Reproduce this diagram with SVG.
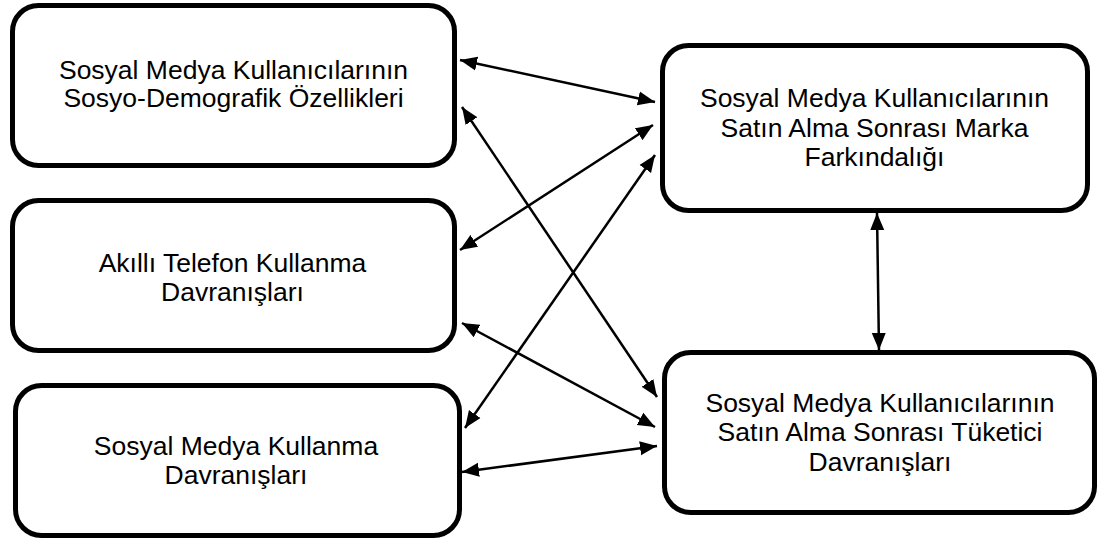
<svg xmlns="http://www.w3.org/2000/svg" width="1106" height="542" viewBox="0 0 1106 542">
  <style>
    .box { fill: #ffffff; stroke: #000000; stroke-width: 5; }
    .lbl { font-family: "Liberation Sans", Arial, sans-serif; font-size: 26.5px; fill: #000000; text-anchor: middle; }
    .con { stroke: #000000; stroke-width: 2.5; fill: none; marker-start: url(#ah); marker-end: url(#ah); }
  </style>
  <defs>
    <marker id="ah" markerUnits="userSpaceOnUse" markerWidth="18" markerHeight="15" refX="17" refY="7" orient="auto-start-reverse" viewBox="0 0 18 14">
      <path d="M0,0 L17,7 L0,14 z" fill="#000000"/>
    </marker>
  </defs>
  <rect width="1106" height="542" fill="#ffffff"/>

  <g id="node-sosyo-demografik">
    <rect class="box" x="12.5" y="5.5" width="442" height="160" rx="26" ry="26"/>
    <text class="lbl" x="233.5" y="79">Sosyal Medya Kullanıcılarının</text>
    <text class="lbl" x="233.5" y="107">Sosyo-Demografik Özellikleri</text>
  </g>

  <g id="node-akilli-telefon">
    <rect class="box" x="12.5" y="200.5" width="442" height="150" rx="26" ry="26"/>
    <text class="lbl" x="232.5" y="271.5">Akıllı Telefon Kullanma</text>
    <text class="lbl" x="232.5" y="300.5">Davranışları</text>
  </g>

  <g id="node-sosyal-medya-kullanma">
    <rect class="box" x="15.5" y="385.5" width="444" height="150" rx="26" ry="26"/>
    <text class="lbl" x="236" y="455">Sosyal Medya Kullanma</text>
    <text class="lbl" x="236" y="484">Davranışları</text>
  </g>

  <g id="node-marka-farkindaligi">
    <rect class="box" x="662.5" y="45.5" width="425" height="165" rx="26" ry="26"/>
    <text class="lbl" x="874.5" y="107">Sosyal Medya Kullanıcılarının</text>
    <text class="lbl" x="874.5" y="136.5">Satın Alma Sonrası Marka</text>
    <text class="lbl" x="874.5" y="166">Farkındalığı</text>
  </g>

  <g id="node-tuketici-davranislari">
    <rect class="box" x="664.5" y="352.5" width="430" height="160" rx="26" ry="26"/>
    <text class="lbl" x="880" y="411.5">Sosyal Medya Kullanıcılarının</text>
    <text class="lbl" x="880" y="441">Satın Alma Sonrası Tüketici</text>
    <text class="lbl" x="880" y="470.5">Davranışları</text>
  </g>

  <g id="connectors">
    <line class="con" x1="460" y1="60" x2="655" y2="102"/>
    <line class="con" x1="462" y1="107" x2="657" y2="397"/>
    <line class="con" x1="460" y1="250" x2="653" y2="125"/>
    <line class="con" x1="465" y1="428" x2="655" y2="155"/>
    <line class="con" x1="462" y1="323" x2="655" y2="427"/>
    <line class="con" x1="462" y1="472" x2="657" y2="446"/>
    <line class="con" x1="877" y1="213" x2="879" y2="350"/>
  </g>
</svg>
